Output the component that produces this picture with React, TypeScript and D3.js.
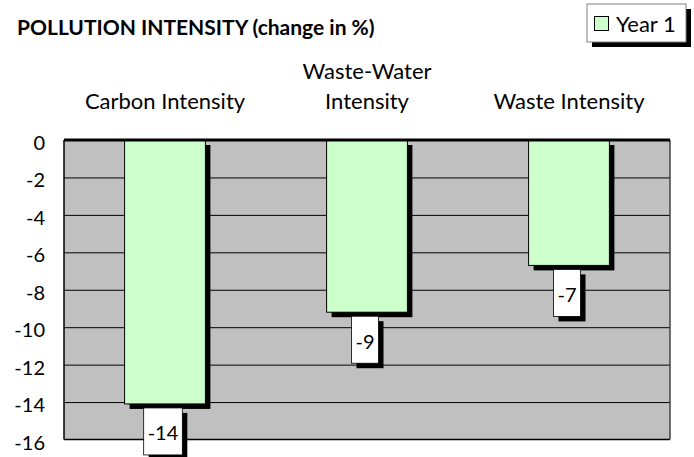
import React, { useEffect, useRef } from 'react';
import * as d3 from 'd3';

// chart data
const categories = ['Carbon Intensity', 'Waste-Water Intensity', 'Waste Intensity'];
const categoryLines = [['Carbon Intensity'], ['Waste-Water', 'Intensity'], ['Waste Intensity']];
const year1Values = [-14.1, -9.2, -6.7];
const yTicks = [0, -2, -4, -6, -8, -10, -12, -14, -16];
const seriesName = 'Year 1';
const chartTitle = 'POLLUTION INTENSITY (change in %)';

const WIDTH = 694;
const HEIGHT = 457;
const FONT = 'Lato, "Open Sans", sans-serif';
const BAR_FILL = '#CCFFCC';
const SHADOW = 5;

const App: React.FC = () => {
  const svgRef = useRef<SVGSVGElement>(null);

  useEffect(() => {
    if (!svgRef.current) return;
    const svg = d3.select(svgRef.current);
    svg.selectAll('*').remove();

    const margin = { top: 140, right: 24, bottom: 17.5, left: 64 };
    const innerWidth = WIDTH - margin.left - margin.right;
    const innerHeight = HEIGHT - margin.top - margin.bottom;

    const x = d3.scaleBand<string>()
      .domain(categories)
      .range([0, innerWidth])
      .paddingInner(0.6)
      .paddingOuter(0.3);

    const y = d3.scaleLinear()
      .domain([-16, 0])
      .range([innerHeight, 0]);

    // Title
    svg.append('text')
      .attr('x', 17)
      .attr('y', 35)
      .attr('font-family', FONT)
      .attr('font-size', 21)
      .attr('font-weight', 'bold')
      .attr('fill', '#000')
      .text(chartTitle);

    // Legend with drop shadow
    const legend = svg.append('g').attr('transform', 'translate(587,4)');
    legend.append('rect')
      .attr('x', SHADOW).attr('y', SHADOW)
      .attr('width', 99).attr('height', 38)
      .attr('fill', '#000');
    legend.append('rect')
      .attr('width', 99).attr('height', 38)
      .attr('fill', '#fff')
      .attr('stroke', '#808080');
    legend.append('rect')
      .attr('x', 7.5).attr('y', 12.5)
      .attr('width', 14).attr('height', 14)
      .attr('fill', BAR_FILL)
      .attr('stroke', '#000');
    legend.append('text')
      .attr('x', 29)
      .attr('y', 28)
      .attr('font-family', FONT)
      .attr('font-size', 22)
      .attr('fill', '#000')
      .text(seriesName);

    const g = svg.append('g')
      .attr('transform', `translate(${margin.left},${margin.top})`);

    // Plot background
    g.append('rect')
      .attr('width', innerWidth)
      .attr('height', innerHeight)
      .attr('fill', '#C0C0C0');

    // Horizontal grid lines
    g.append('g')
      .call(
        d3.axisLeft(y)
          .tickValues(yTicks.slice(1, -1))
          .tickSize(-innerWidth)
          .tickFormat(() => '')
      )
      .call(sel => sel.select('.domain').remove())
      .selectAll('line')
      .attr('stroke', '#000')
      .attr('stroke-width', 1);

    // Plot border
    g.append('line')
      .attr('x1', 0).attr('x2', 0).attr('y1', 0).attr('y2', innerHeight)
      .attr('stroke', '#000').attr('stroke-width', 1.5);
    g.append('line')
      .attr('x1', 0).attr('x2', innerWidth).attr('y1', innerHeight).attr('y2', innerHeight)
      .attr('stroke', '#000').attr('stroke-width', 1.5);
    g.append('line')
      .attr('x1', innerWidth).attr('x2', innerWidth).attr('y1', 0).attr('y2', innerHeight)
      .attr('stroke', '#404040').attr('stroke-width', 1.5);

    // Y axis labels
    g.append('g')
      .selectAll('text')
      .data(yTicks)
      .join('text')
      .attr('x', -19)
      .attr('y', d => y(d) + 3)
      .attr('dy', '0.35em')
      .attr('text-anchor', 'end')
      .attr('font-family', FONT)
      .attr('font-size', 20)
      .attr('fill', '#000')
      .text(d => d.toString());

    // Bars with drop shadow
    const bars = g.append('g')
      .selectAll('g')
      .data(year1Values)
      .join('g');

    bars.append('rect')
      .attr('x', (d, i) => x(categories[i])! + SHADOW)
      .attr('y', y(0) + SHADOW)
      .attr('width', x.bandwidth())
      .attr('height', d => y(d) - y(0))
      .attr('fill', '#000');

    bars.append('rect')
      .attr('x', (d, i) => x(categories[i])!)
      .attr('y', y(0))
      .attr('width', x.bandwidth())
      .attr('height', d => y(d) - y(0))
      .attr('fill', BAR_FILL)
      .attr('stroke', '#000')
      .attr('stroke-width', 1);

    // Category axis line at zero (top)
    g.append('line')
      .attr('x1', 0).attr('x2', innerWidth)
      .attr('y1', y(0)).attr('y2', y(0))
      .attr('stroke', '#000').attr('stroke-width', 3);

    // Category labels above the plot
    const catLabels = g.append('g')
      .selectAll('text')
      .data(categoryLines)
      .join('text')
      .attr('text-anchor', 'middle')
      .attr('font-family', FONT)
      .attr('font-size', 22)
      .attr('fill', '#000');

    catLabels.each(function (lines, i) {
      const cx = x(categories[i])! + x.bandwidth() / 2;
      lines.forEach((line, j) => {
        d3.select(this).append('tspan')
          .attr('x', cx)
          .attr('y', -31 - (lines.length - 1 - j) * 30)
          .text(line);
      });
    });

    // Data labels in boxes below bars
    year1Values.forEach((v, i) => {
      const cx = x(categories[i])! + x.bandwidth() / 2 - 2;
      const top = y(v) + 4;
      const boxHeight = 47;
      const lg = g.append('g');
      const shadow = lg.append('rect').attr('fill', '#000');
      const box = lg.append('rect').attr('fill', '#fff').attr('stroke', '#000').attr('stroke-width', 0.8);
      const txt = lg.append('text')
        .attr('x', cx)
        .attr('y', top + boxHeight / 2 + 2)
        .attr('dy', '0.35em')
        .attr('text-anchor', 'middle')
        .attr('font-family', FONT)
        .attr('font-size', 20)
        .attr('fill', '#000')
        .text(Math.round(v).toString());
      const w = (txt.node() as SVGTextElement).getComputedTextLength() + 8;
      box.attr('x', cx - w / 2).attr('y', top).attr('width', w).attr('height', boxHeight);
      shadow.attr('x', cx - w / 2 + SHADOW).attr('y', top + SHADOW).attr('width', w).attr('height', boxHeight);
    });
  }, []);

  return (
    <svg
      ref={svgRef}
      width={WIDTH}
      height={HEIGHT}
      style={{ position: 'absolute', left: 0, top: 0, background: '#fff' }}
    />
  );
};

export default App;
